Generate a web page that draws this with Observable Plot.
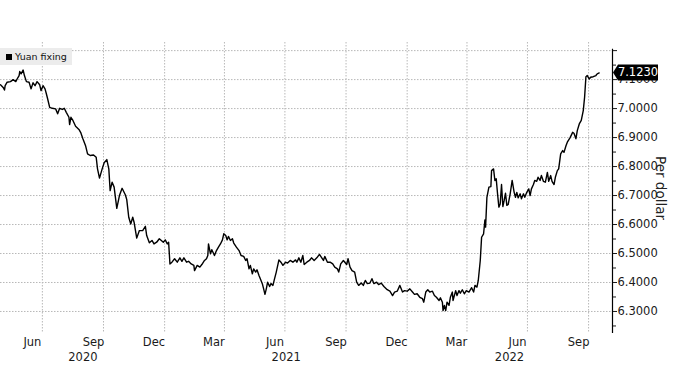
<!DOCTYPE html>
<html>
<head>
<meta charset="utf-8">
<script src="https://cdn.jsdelivr.net/npm/d3@7"></script>
<script src="https://cdn.jsdelivr.net/npm/@observablehq/plot@0.6"></script>
<style>
  html, body { margin: 0; padding: 0; background: #fff; }
  #wrap { position: relative; width: 675px; height: 385px; font-family: "DejaVu Sans", sans-serif; }
  #legend { position: absolute; left: 0; top: 48px; width: 72px; height: 17px; background: #ececec;
            font-size: 9.5px; color: #111; line-height: 17px; }
  #legend .sw { position: absolute; left: 6px; top: 6px; width: 6px; height: 6px; background: #000; }
  #legend .lb { position: absolute; left: 15px; top: 0; }
</style>
</head>
<body>
<div id="wrap">
  <div id="chart"></div>
  <div id="legend"><span class="sw"></span><span class="lb">Yuan fixing</span></div>
</div>
<script>
// ---- data: CNY fixing per US dollar ----
const dates = [
"2020-04-28","2020-05-02","2020-05-04","2020-05-05","2020-05-08","2020-05-13","2020-05-17","2020-05-21","2020-05-23","2020-05-26",
"2020-05-27","2020-05-29","2020-06-01","2020-06-03","2020-06-06","2020-06-10","2020-06-13","2020-06-16","2020-06-19","2020-06-22",
"2020-06-26","2020-06-28","2020-07-01","2020-07-04","2020-07-06","2020-07-08","2020-07-11","2020-07-15","2020-07-20","2020-07-23",
"2020-07-26","2020-07-30","2020-08-02","2020-08-05","2020-08-09","2020-08-10","2020-08-12","2020-08-15","2020-08-19","2020-08-24",
"2020-08-27","2020-08-30","2020-09-03","2020-09-06","2020-09-10","2020-09-15","2020-09-19","2020-09-21","2020-09-24","2020-09-28",
"2020-10-01","2020-10-05","2020-10-08","2020-10-10","2020-10-13","2020-10-16","2020-10-20","2020-10-24","2020-10-28","2020-11-02",
"2020-11-04","2020-11-07","2020-11-10","2020-11-13","2020-11-15","2020-11-19","2020-11-23","2020-11-28","2020-12-02","2020-12-04",
"2020-12-08","2020-12-12","2020-12-15","2020-12-19","2020-12-23","2020-12-29","2021-01-01","2021-01-04","2021-01-06","2021-01-08",
"2021-01-11","2021-01-15","2021-01-19","2021-01-23","2021-01-26","2021-01-29","2021-02-02","2021-02-05","2021-02-09","2021-02-13",
"2021-02-14","2021-02-18","2021-02-22","2021-02-25","2021-03-01","2021-03-04","2021-03-06","2021-03-07","2021-03-10","2021-03-12",
"2021-03-16","2021-03-19","2021-03-22","2021-03-25","2021-03-28","2021-03-30","2021-04-02","2021-04-04","2021-04-06","2021-04-09",
"2021-04-12","2021-04-14","2021-04-18","2021-04-22","2021-04-25","2021-04-29","2021-05-02","2021-05-04","2021-05-07","2021-05-09",
"2021-05-12","2021-05-14","2021-05-17","2021-05-19","2021-05-22","2021-05-24","2021-05-27","2021-05-29","2021-05-31","2021-06-02",
"2021-06-04","2021-06-07","2021-06-09","2021-06-12","2021-06-14","2021-06-17","2021-06-21","2021-06-24","2021-06-27","2021-07-01",
"2021-07-04","2021-07-08","2021-07-12","2021-07-16","2021-07-18","2021-07-21","2021-07-24","2021-07-27","2021-07-29","2021-08-02",
"2021-08-06","2021-08-09","2021-08-13","2021-08-17","2021-08-21","2021-08-24","2021-08-27","2021-08-29","2021-09-02","2021-09-06",
"2021-09-10","2021-09-13","2021-09-17","2021-09-19","2021-09-22","2021-09-26","2021-10-01","2021-10-03","2021-10-06","2021-10-09",
"2021-10-13","2021-10-16","2021-10-19","2021-10-23","2021-10-26","2021-10-29","2021-11-01","2021-11-05","2021-11-08","2021-11-11",
"2021-11-15","2021-11-18","2021-11-22","2021-11-26","2021-12-01","2021-12-05","2021-12-09","2021-12-12","2021-12-16","2021-12-20",
"2021-12-24","2021-12-27","2021-12-31","2022-01-04","2022-01-08","2022-01-11","2022-01-15","2022-01-19","2022-01-23","2022-01-25",
"2022-01-28","2022-01-31","2022-02-03","2022-02-07","2022-02-10","2022-02-13","2022-02-17","2022-02-19","2022-02-22","2022-02-23",
"2022-02-25","2022-02-27","2022-03-01","2022-03-04","2022-03-06","2022-03-09","2022-03-10","2022-03-14","2022-03-16","2022-03-19",
"2022-03-21","2022-03-24","2022-03-27","2022-03-30","2022-04-03","2022-04-07","2022-04-10","2022-04-12","2022-04-15","2022-04-17",
"2022-04-20","2022-04-22","2022-04-25","2022-04-27","2022-04-28","2022-04-30","2022-05-03","2022-05-06","2022-05-07","2022-05-10",
"2022-05-12","2022-05-14","2022-05-16","2022-05-18","2022-05-20","2022-05-22","2022-05-24","2022-05-26","2022-05-28","2022-05-30",
"2022-06-01","2022-06-04","2022-06-07","2022-06-10","2022-06-12","2022-06-14","2022-06-16","2022-06-19","2022-06-21","2022-06-24",
"2022-06-26","2022-06-29","2022-07-02","2022-07-04","2022-07-06","2022-07-09","2022-07-11","2022-07-14","2022-07-16","2022-07-19",
"2022-07-21","2022-07-24","2022-07-27","2022-07-30","2022-08-01","2022-08-04","2022-08-06","2022-08-09","2022-08-11","2022-08-14",
"2022-08-16","2022-08-19","2022-08-22","2022-08-24","2022-08-27","2022-08-29","2022-09-02","2022-09-06","2022-09-08","2022-09-11",
"2022-09-13","2022-09-16","2022-09-19","2022-09-22","2022-09-24","2022-09-26","2022-09-28","2022-10-01","2022-10-03","2022-10-07",
"2022-10-11","2022-10-13","2022-10-16"
];
const values = [
7.082,7.073,7.064,7.079,7.091,7.093,7.100,7.093,7.102,7.114,
7.128,7.120,7.133,7.114,7.093,7.091,7.068,7.089,7.079,7.093,
7.082,7.062,7.079,7.068,7.051,7.033,7.004,7.001,6.999,6.982,
7.001,6.997,7.001,6.987,6.970,6.945,6.970,6.959,6.939,6.928,
6.916,6.896,6.872,6.844,6.838,6.840,6.832,6.792,6.760,6.792,
6.813,6.824,6.792,6.717,6.746,6.729,6.656,6.700,6.725,6.702,
6.686,6.625,6.602,6.625,6.608,6.553,6.579,6.579,6.594,6.562,
6.537,6.545,6.533,6.539,6.551,6.539,6.547,6.533,6.539,6.464,
6.470,6.482,6.470,6.485,6.473,6.485,6.470,6.473,6.464,6.459,
6.441,6.459,6.453,6.462,6.476,6.482,6.493,6.533,6.499,6.513,
6.493,6.510,6.522,6.533,6.547,6.568,6.562,6.547,6.559,6.545,
6.551,6.536,6.522,6.510,6.493,6.490,6.476,6.482,6.447,6.459,
6.430,6.447,6.436,6.444,6.424,6.413,6.396,6.378,6.359,6.378,
6.401,6.386,6.396,6.390,6.409,6.436,6.478,6.470,6.459,6.470,
6.467,6.476,6.470,6.478,6.470,6.485,6.470,6.493,6.462,6.470,
6.476,6.485,6.476,6.485,6.497,6.487,6.476,6.490,6.470,6.470,
6.464,6.453,6.447,6.436,6.464,6.476,6.462,6.482,6.453,6.441,
6.436,6.401,6.390,6.398,6.390,6.407,6.396,6.398,6.413,6.396,
6.401,6.393,6.398,6.386,6.375,6.370,6.355,6.367,6.370,6.390,
6.367,6.372,6.370,6.378,6.367,6.359,6.361,6.349,6.344,6.332,
6.367,6.375,6.367,6.370,6.355,6.349,6.338,6.347,6.332,6.303,
6.321,6.303,6.332,6.321,6.349,6.367,6.338,6.372,6.355,6.372,
6.363,6.375,6.361,6.372,6.367,6.382,6.367,6.390,6.384,6.407,
6.476,6.556,6.568,6.616,6.591,6.694,6.729,6.731,6.786,6.792,
6.752,6.758,6.706,6.660,6.671,6.738,6.662,6.683,6.708,6.666,
6.669,6.706,6.752,6.711,6.694,6.711,6.692,6.706,6.689,6.706,
6.694,6.711,6.723,6.700,6.723,6.738,6.752,6.749,6.763,6.752,
6.769,6.749,6.746,6.780,6.749,6.769,6.749,6.738,6.763,6.786,
6.792,6.844,6.855,6.849,6.872,6.884,6.899,6.918,6.915,6.896,
6.924,6.947,6.959,6.993,7.039,7.110,7.114,7.102,7.108,7.110,
7.114,7.120,7.123
];
const lastValue = 7.1230;

// axis tick values and labels
const yTicks = [6.3, 6.4, 6.5, 6.6, 6.7, 6.8, 6.9, 7.0, 7.1, 7.2];
const yMinorTicks = [6.25, 6.35, 6.45, 6.55, 6.65, 6.75, 6.85, 6.95, 7.05, 7.15];
const gridDates = ["2020-06-30","2020-09-30","2020-12-31","2021-03-31","2021-06-30","2021-09-30","2021-12-31","2022-03-31","2022-06-30","2022-09-30"];
const monthLabelDates = ["2020-06-15","2020-09-15","2020-12-15","2021-03-15","2021-06-15","2021-09-15","2021-12-15","2022-03-15","2022-06-15","2022-09-15"];
const yearLabels = ["2020", "2021", "2022"];
const yearLabelDates = ["2020-08-30", "2021-07-02", "2022-06-03"];
const xDomain = ["2020-04-28", "2022-11-05"];
const yDomain = [6.224, 7.228];
const axisLabel = "Per dollar";

// ---- build ----
const parse = d3.utcParse("%Y-%m-%d");
const data = dates.map((d, i) => ({date: parse(d), value: values[i]}));
const years = yearLabels.map((t, i) => ({date: parse(yearLabelDates[i]), text: t}));
const xEnd = parse(xDomain[1]);

function valueTag(index, scales, vals, dims) {
  const ns = "http://www.w3.org/2000/svg";
  const y = scales.y(lastValue);
  const x0 = dims.width - dims.marginRight;
  const g = document.createElementNS(ns, "g");
  const p = document.createElementNS(ns, "polygon");
  p.setAttribute("points", `${x0+1},${y} ${x0+6},${y-8} ${x0+46},${y-8} ${x0+46},${y+8} ${x0+6},${y+8}`);
  p.setAttribute("fill", "#000");
  g.appendChild(p);
  const t = document.createElementNS(ns, "text");
  t.setAttribute("x", x0 + 26);
  t.setAttribute("y", y);
  t.setAttribute("dy", "0.35em");
  t.setAttribute("text-anchor", "middle");
  t.setAttribute("fill", "#fff");
  t.setAttribute("font-size", "11.5px");
  t.textContent = lastValue.toFixed(4);
  g.appendChild(t);
  return g;
}

const grid = {stroke: "#b8b8b8", strokeOpacity: 1, strokeDasharray: "1.5,1.5", strokeWidth: 1};

const chart = Plot.plot({
  width: 675,
  height: 385,
  marginLeft: 0,
  marginRight: 63,
  marginTop: 42,
  marginBottom: 52,
  style: {fontFamily: "DejaVu Sans, sans-serif", fontSize: "11.5px", color: "#1a1a1a", background: "#fff"},
  x: {type: "utc", domain: xDomain.map(parse)},
  y: {domain: yDomain},
  marks: [
    Plot.gridX(gridDates.map(parse), grid),
    Plot.gridY(yTicks, grid),
    Plot.ruleX([xEnd], {y1: yDomain[0], y2: 7.205, stroke: "#000", strokeWidth: 1.2}),
    Plot.axisY(yMinorTicks, {anchor: "right", tickSize: 3, tickFormat: () => "", label: null}),
    Plot.axisY(yTicks, {anchor: "right", tickSize: 4, tickPadding: 1, label: null,
      tickFormat: d => (Math.abs(d - 7.2) < 1e-9 ? "" : d.toFixed(4))}),
    Plot.axisX(monthLabelDates.map(parse), {anchor: "bottom", tickSize: 0, tickPadding: 4, label: null,
      tickFormat: d3.utcFormat("%b")}),
    Plot.text(years, {x: "date", text: "text", frameAnchor: "bottom", dy: 27, fontSize: 11.5}),
    Plot.line(data, {x: "date", y: "value", stroke: "#000", strokeWidth: 1.4}),
    Plot.text([axisLabel], {frameAnchor: "right", dx: 48, rotate: 90, textAnchor: "middle", fontSize: 13.5, fill: "#222"}),
    valueTag
  ]
});
document.getElementById("chart").appendChild(chart);
</script>
</body>
</html>
